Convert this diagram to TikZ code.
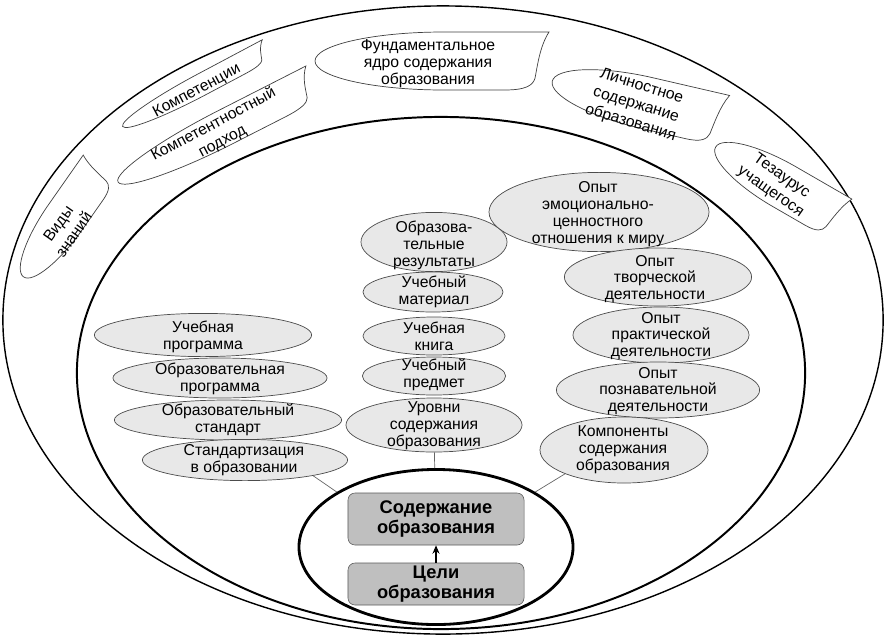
\documentclass[tikz,border=0pt]{standalone}
\usepackage{fontspec}
\setmainfont{Liberation Sans}
\usetikzlibrary{shapes.geometric,arrows.meta}

% outline of the white cut-off ovals in the outer ring (unit frame)
\newcommand{\flagshape}{(1,-1) -- (0.1,-1) .. controls (-0.5,-1) and (-1,-0.55) .. (-1,0) .. controls (-1,0.55) and (-0.5,1) .. (0.1,1) -- (0.62,1) .. controls (0.8,1) and (0.86,0.85) .. (0.88,0.6) .. controls (0.9,0.2) and (0.92,-0.5) .. (1,-1) -- cycle}

\tikzset{
  oval/.style={ellipse, draw=black!70, fill=black!9, line width=0.5pt, inner sep=0pt},
  txt/.style={align=center, inner sep=0pt, font=\fontsize{11.2}{12}\selectfont},
  rtxt/.style={txt, font=\fontsize{11.2}{13.5}\selectfont},
  flag/.style={draw=black!75, fill=white, line width=0.5pt},
  ring/.style={ellipse, draw, inner sep=0pt},
  goalbox/.style={draw=black!65, fill=black!25, rounded corners=5pt, minimum width=4.4cm,
    inner sep=0pt, align=center, font=\fontsize{13}{14.5}\selectfont\bfseries},
  link/.style={draw=black!60, line width=0.5pt}
}

\begin{document}
\begin{tikzpicture}[x=0.025cm, y=-0.025cm]
  \useasboundingbox (0,0) rectangle (886,639);%
  % rings
  \node[ring, line width=1pt, minimum width=22cm, minimum height=15.7cm] (outer) at (443,320) {};%
  \node[ring, line width=1.4pt, minimum width=18.2cm, minimum height=12.8cm] (inner) at (441,373) {};%
  \node[ring, line width=2pt, minimum width=6.85cm, minimum height=3.875cm] (core) at (436,547) {};%
  % outer ring
  \draw[flag, shift={(432,61)}, xscale=117, yscale=29] \flagshape;%
  \draw[flag, shift={(195,88)}, rotate=28, xscale=82, yscale=11] \flagshape;%
  \draw[flag, shift={(216,132)}, rotate=27, xscale=110, yscale=18] \flagshape;%
  \draw[flag, shift={(62,222)}, rotate=55, xscale=67, yscale=21] \flagshape;%
  \draw[flag, shift={(638,101)}, rotate=-13, xscale=88, yscale=26] \flagshape;%
  \draw[flag, shift={(778,183)}, rotate=-30, xscale=72, yscale=23] \flagshape;%
  \node[txt] (fund) at (428,64) {Фундаментальное\\ядро содержания\\образования};%
  \node[rtxt, rotate=28] (kompet) at (197,91) {Компетенции};%
  \node[rtxt, rotate=28] (kpod) at (218,133) {Компетентностный\\подход};%
  \node[rtxt, rotate=55] (vidy) at (66,229) {Виды\\знаний};%
  \node[rtxt, rotate=-17] (lich) at (636,105) {Личностное\\содержание\\образования};%
  \node[rtxt, rotate=-35] (tez) at (776,184) {Тезаурус\\учащегося};%
  % left column
  \node[oval, minimum width=5.43cm, minimum height=1.08cm] (prog) at (203,335) {};%
  \node[oval, minimum width=5.35cm, minimum height=1cm] (eprog) at (220,378) {};%
  \node[oval, minimum width=5.68cm, minimum height=1cm] (std) at (228,420) {};%
  \node[oval, minimum width=5.13cm, minimum height=1.03cm] (stdz) at (245,460) {};%
  % middle column
  \node[oval, minimum width=3.65cm, minimum height=1.48cm] (res) at (434,242) {};%
  \node[oval, minimum width=3.5cm, minimum height=1cm] (mat) at (433,292) {};%
  \node[oval, minimum width=3.55cm, minimum height=0.95cm] (book) at (434,336) {};%
  \node[oval, minimum width=3.58cm, minimum height=0.95cm] (subj) at (434,376) {};%
  \node[oval, minimum width=4.4cm, minimum height=1.35cm] (lvl) at (434,425) {};%
  % right column
  \node[oval, minimum width=5.5cm, minimum height=1.98cm] (emo) at (599,212) {};%
  \node[oval, minimum width=4.68cm, minimum height=1.45cm] (cre) at (658,277) {};%
  \node[oval, minimum width=4.4cm, minimum height=1.4cm] (prac) at (661,335) {};%
  \node[oval, minimum width=5.08cm, minimum height=1.4cm] (cog) at (658,390) {};%
  \node[oval, minimum width=4.2cm, minimum height=1.65cm] (comp) at (624,450) {};%
  % texts of the ovals
  \node[txt] (t-prog) at (203,337) {Учебная\\программа};%
  \node[txt] (t-eprog) at (220,379) {Образовательная\\программа};%
  \node[txt] (t-std) at (228,420) {Образовательный\\стандарт};%
  \node[txt] (t-stdz) at (244,460) {Стандартизация\\в образовании};%
  \node[txt] (t-res) at (434,245) {Образова-\\тельные\\результаты};%
  \node[txt] (t-mat) at (434,292) {Учебный\\материал};%
  \node[txt] (t-book) at (434,336) {Учебная\\книга};%
  \node[txt] (t-subj) at (434,375) {Учебный\\предмет};%
  \node[txt] (t-lvl) at (434,426) {Уровни\\содержания\\образования};%
  \node[txt] (t-emo) at (598,214) {Опыт\\эмоционально-\\ценностного\\отношения к миру};%
  \node[txt] (t-cre) at (655,279) {Опыт\\творческой\\деятельности};%
  \node[txt] (t-prac) at (661,336) {Опыт\\практической\\деятельности};%
  \node[txt] (t-cog) at (658,391) {Опыт\\познавательной\\деятельности};%
  \node[txt] (t-comp) at (623,450) {Компоненты\\содержания\\образования};%
  % centre
  \node[goalbox, minimum height=1.3cm] (content) at (436,519) {Содержание\\образования};%
  \node[goalbox, minimum height=1.05cm] (goals) at (436,584) {Цели\\образования};%
  \draw[-{Stealth[length=6pt,width=5pt]}, line width=0.8pt] (goals) -- (content);%
  \draw[link] (lvl) -- (core);%
  \draw[link] (stdz.-13) -- (core.151);%
  \draw[link] (comp.-158) -- (core.29);%
\end{tikzpicture}
\end{document}
